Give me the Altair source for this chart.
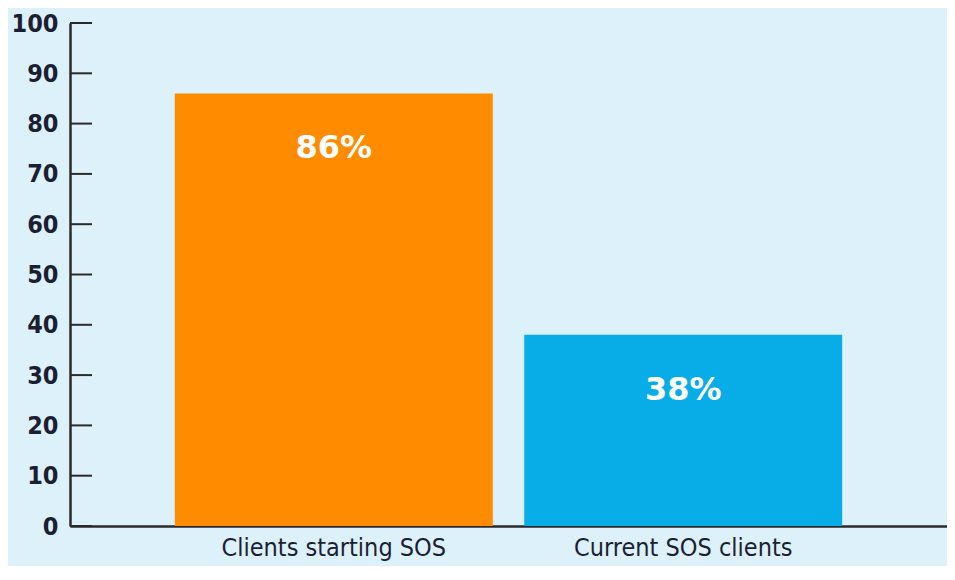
import altair as alt
import pandas as pd

categories = ["Clients starting SOS", "Current SOS clients"]
values = [86, 38]
labels = ["86%", "38%"]
colors = ["#ff8c00", "#08ade8"]
y_ticks = [0, 10, 20, 30, 40, 50, 60, 70, 80, 90, 100]

df = pd.DataFrame({"cat": categories, "val": values, "lab": labels, "col": colors})
ticks_df = pd.DataFrame({"t": y_ticks})

COND = "'Liberation Sans Narrow', 'DejaVu Sans Condensed', 'Roboto Condensed', 'Arial Narrow', sans-serif"

x_enc = alt.X("cat:N", sort=categories, title=None,
              scale=alt.Scale(paddingInner=0.09, paddingOuter=0.3),
              axis=alt.Axis(labelAngle=0, ticks=False, domainColor="#2a2a2a", domainWidth=2.5,
                            labelFont=COND, labelFontSize=25, labelLimit=0,
                            labelColor="#1c1f33", labelPadding=9, labelBaseline="top"))
y_scale = alt.Scale(domain=[0, 100], nice=False)

bars = alt.Chart(df).mark_bar().encode(
    x=x_enc,
    y=alt.Y("val:Q", scale=y_scale, title=None,
            axis=alt.Axis(values=y_ticks, ticks=False, grid=False, domainColor="#2a2a2a",
                          domainWidth=2.5, labelFont=COND,
                          labelFontWeight="bold", labelFontSize=25, labelColor="#1c1f33",
                          labelPadding=12)),
    color=alt.Color("col:N", scale=None),
)

text = alt.Chart(df).mark_text(font="DejaVu Sans", fontWeight="bold", fontSize=32,
                               color="white", baseline="middle", dy=55).encode(
    x=alt.X("cat:N", sort=categories),
    y=alt.Y("val:Q", scale=y_scale),
    text="lab:N",
)

tick_marks = alt.Chart(ticks_df).mark_rule(color="#2a2a2a", strokeWidth=2).encode(
    y=alt.Y("t:Q", scale=y_scale),
    x=alt.value(0),
    x2=alt.value(22),
)

chart = alt.layer(bars, text, tick_marks).properties(
    width=877, height=503,
    background="#ddf1fa",
    padding={"left": 62, "top": 15, "right": 0, "bottom": 40},
    autosize=alt.AutoSizeParams(type="none"),
).configure_view(stroke=None)

chart.save("out.html", embed_options={"renderer": "svg", "actions": False})
